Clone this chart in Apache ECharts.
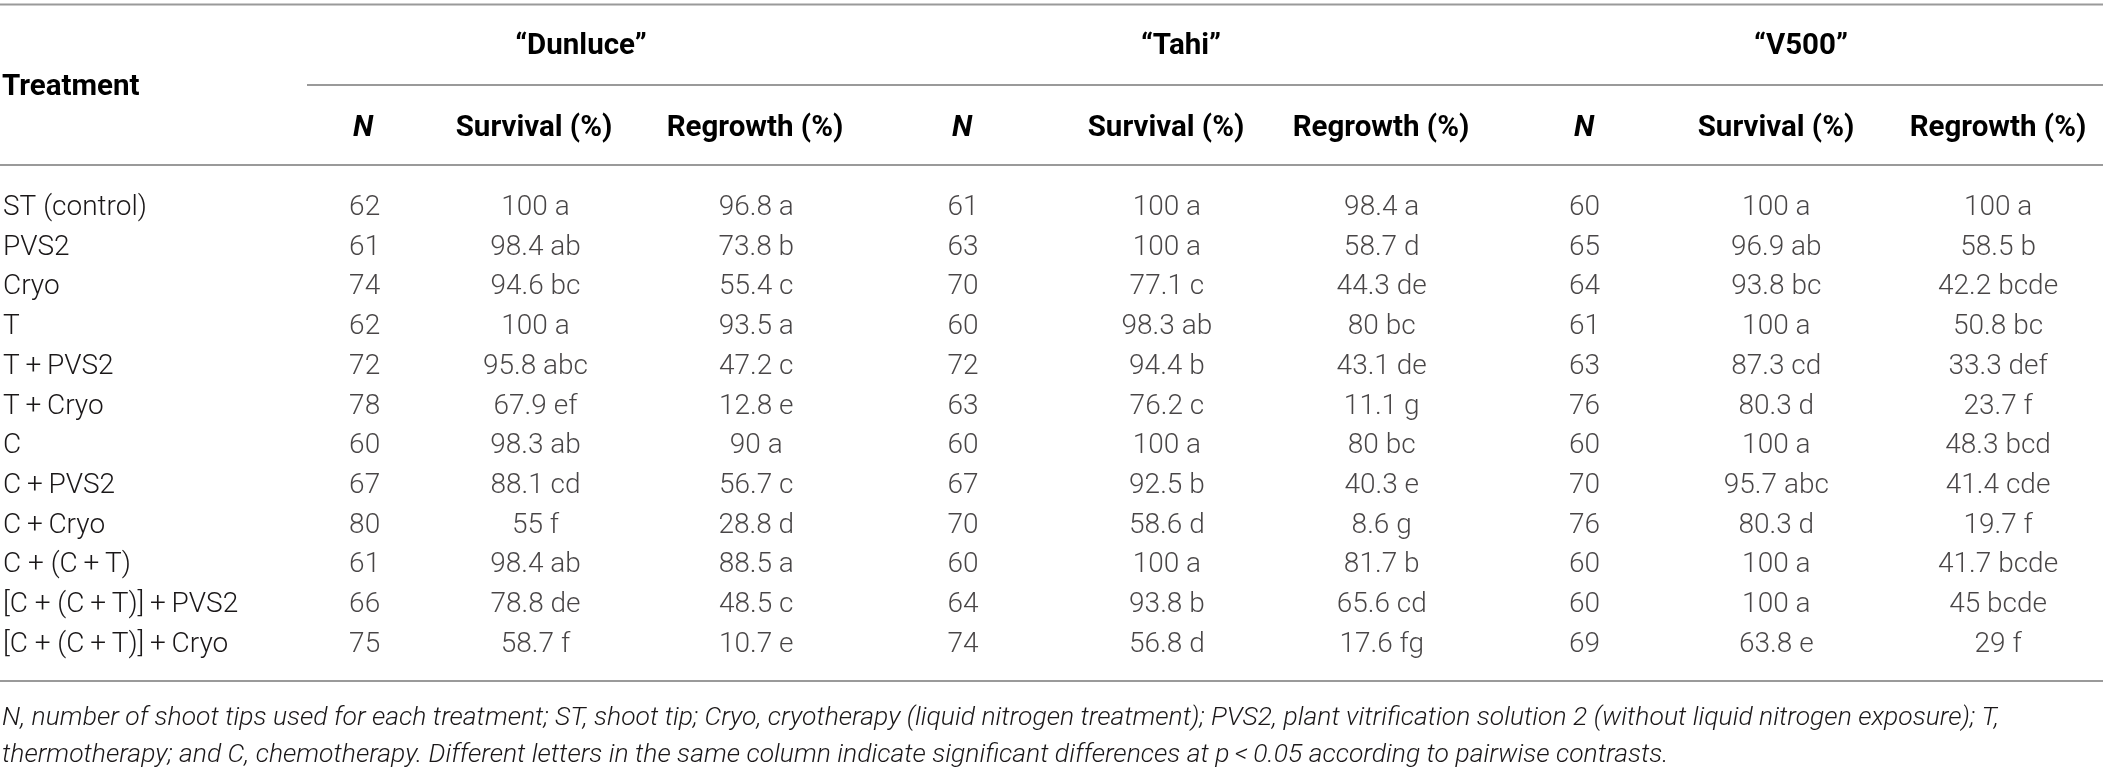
<!DOCTYPE html>
<html>
<head>
<meta charset="utf-8">
<script src="https://cdn.jsdelivr.net/npm/echarts@6/dist/echarts.min.js"></script>
<style>
  html, body { margin: 0; padding: 0; background: #ffffff; }
  #chart { width: 2103px; height: 770px; }
</style>
</head>
<body>
<div id="chart"></div>
<script>
// ---------- data ----------
const treatments = [
  "ST (control)", "PVS2", "Cryo", "T", "T\u2009+\u2009PVS2", "T\u2009+\u2009Cryo", "C",
  "C\u2009+\u2009PVS2", "C\u2009+\u2009Cryo", "C + (C\u2009+\u2009T)",
  "[C + (C\u2009+\u2009T)]\u2009+\u2009PVS2", "[C + (C\u2009+\u2009T)]\u2009+\u2009Cryo"
];
const cultivars = ["\u201cDunluce\u201d", "\u201cTahi\u201d", "\u201cV500\u201d"];
const subHeaders = ["N", "Survival (%)", "Regrowth (%)"];

const dunluceN = [62, 61, 74, 62, 72, 78, 60, 67, 80, 61, 66, 75];
const dunluceSurvival = [100, 98.4, 94.6, 100, 95.8, 67.9, 98.3, 88.1, 55, 98.4, 78.8, 58.7];
const dunluceSurvivalLetters = ["a", "ab", "bc", "a", "abc", "ef", "ab", "cd", "f", "ab", "de", "f"];
const dunluceRegrowth = [96.8, 73.8, 55.4, 93.5, 47.2, 12.8, 90, 56.7, 28.8, 88.5, 48.5, 10.7];
const dunluceRegrowthLetters = ["a", "b", "c", "a", "c", "e", "a", "c", "d", "a", "c", "e"];

const tahiN = [61, 63, 70, 60, 72, 63, 60, 67, 70, 60, 64, 74];
const tahiSurvival = [100, 100, 77.1, 98.3, 94.4, 76.2, 100, 92.5, 58.6, 100, 93.8, 56.8];
const tahiSurvivalLetters = ["a", "a", "c", "ab", "b", "c", "a", "b", "d", "a", "b", "d"];
const tahiRegrowth = [98.4, 58.7, 44.3, 80, 43.1, 11.1, 80, 40.3, 8.6, 81.7, 65.6, 17.6];
const tahiRegrowthLetters = ["a", "d", "de", "bc", "de", "g", "bc", "e", "g", "b", "cd", "fg"];

const v500N = [60, 65, 64, 61, 63, 76, 60, 70, 76, 60, 60, 69];
const v500Survival = [100, 96.9, 93.8, 100, 87.3, 80.3, 100, 95.7, 80.3, 100, 100, 63.8];
const v500SurvivalLetters = ["a", "ab", "bc", "a", "cd", "d", "a", "abc", "d", "a", "a", "e"];
const v500Regrowth = [100, 58.5, 42.2, 50.8, 33.3, 23.7, 48.3, 41.4, 19.7, 41.7, 45, 29];
const v500RegrowthLetters = ["a", "b", "bcde", "bc", "def", "f", "bcd", "cde", "f", "bcde", "bcde", "f"];

const footnoteLines = [
  "N, number of shoot tips used for each treatment; ST, shoot tip; Cryo, cryotherapy (liquid nitrogen treatment); PVS2, plant vitrification solution 2 (without liquid nitrogen exposure); T,",
  "thermotherapy; and C, chemotherapy. Different letters in the same column indicate significant differences at p\u2009<\u20090.05 according to pairwise contrasts."
];

// ---------- layout (positions, not data) ----------
const W = 2103, H = 770;
const colX = [[363, 534, 755], [962, 1166, 1381], [1584, 1776, 1998]];
const groupX = [581, 1181, 1801];
const TEXT = "#1a1718";
const RULE = "#9a9a9a";
const FONT = "Roboto, 'Liberation Sans', Arial, sans-serif";
const ROW_H = 39.7;
const FIRST_ROW = 208;

const groups = [
  { n: dunluceN, s: dunluceSurvival, sl: dunluceSurvivalLetters, r: dunluceRegrowth, rl: dunluceRegrowthLetters },
  { n: tahiN, s: tahiSurvival, sl: tahiSurvivalLetters, r: tahiRegrowth, rl: tahiRegrowthLetters },
  { n: v500N, s: v500Survival, sl: v500SurvivalLetters, r: v500Regrowth, rl: v500RegrowthLetters }
];

function cellSeries(x, texts) {
  return {
    type: "scatter",
    symbolSize: 0,
    silent: true,
    animation: false,
    data: texts.map((t, i) => ({ value: [x, i], txt: t })),
    label: {
      show: true,
      position: "inside",
      formatter: p => p.data.txt,
      color: TEXT,
      fontFamily: FONT,
      fontWeight: 300,
      fontSize: 28
    },
    emphasis: { disabled: true }
  };
}

const series = [];
groups.forEach((g, gi) => {
  series.push(cellSeries(colX[gi][0], g.n.map(String)));
  series.push(cellSeries(colX[gi][1], g.s.map((v, i) => v + " " + g.sl[i])));
  series.push(cellSeries(colX[gi][2], g.r.map((v, i) => v + " " + g.rl[i])));
});

const graphics = [];
function hline(x1, x2, y) {
  graphics.push({ type: "line", silent: true,
    shape: { x1: x1, y1: y, x2: x2, y2: y },
    style: { stroke: RULE, lineWidth: 2 } });
}
function htext(x, y, text, align, opts) {
  graphics.push({ type: "text", silent: true, x: x, y: y,
    style: Object.assign({ text: text, fill: "#000000", fontFamily: FONT, fontSize: 29.5,
      fontWeight: "bold", align: align, verticalAlign: "middle" }, opts || {}) });
}
hline(0, W, 4.5);
hline(307, W, 85);
hline(0, W, 165);
hline(0, W, 681);
htext(2, 88, "Treatment", "left");
cultivars.forEach((c, gi) => {
  htext(groupX[gi], 47, c, "center");
  subHeaders.forEach((s, si) => {
    htext(colX[gi][si], 129, s, "center", si === 0 ? { fontStyle: "italic" } : {});
  });
});
footnoteLines.forEach((t, i) => {
  htext(2, 718 + i * 37.5, t, "left", { fill: TEXT, fontWeight: 300, fontStyle: "italic", fontSize: 26.5 });
});

const chart = echarts.init(document.getElementById("chart"), null, { renderer: "canvas" });
chart.setOption({
  backgroundColor: "#ffffff",
  animation: false,
  grid: { left: 0, right: 0, top: FIRST_ROW - ROW_H / 2, height: ROW_H * treatments.length, containLabel: false },
  xAxis: { type: "value", min: 0, max: W, show: false },
  yAxis: {
    type: "category",
    data: treatments,
    inverse: true,
    axisLine: { show: false },
    axisTick: { show: false },
    splitLine: { show: false },
    axisLabel: {
      inside: true,
      margin: 1,
      align: "left",
      color: TEXT,
      fontFamily: FONT,
      fontWeight: 300,
      fontSize: 28
    }
  },
  series: series,
  graphic: graphics
});
</script>
</body>
</html>
